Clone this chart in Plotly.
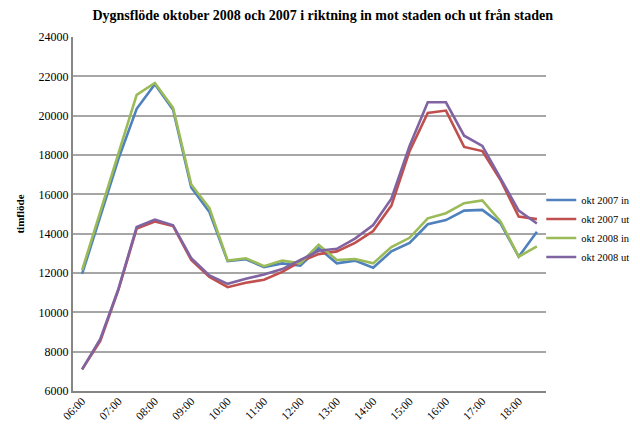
import plotly.graph_objects as go

times = ["06:00","06:30","07:00","07:30","08:00","08:30","09:00","09:30","10:00","10:30",
         "11:00","11:30","12:00","12:30","13:00","13:30","14:00","14:30","15:00","15:30",
         "16:00","16:30","17:00","17:30","18:00","18:30"]
tick_labels = ["06:00","07:00","08:00","09:00","10:00","11:00","12:00","13:00","14:00",
               "15:00","16:00","17:00","18:00"]

okt2007_in = [11950, 14900, 17800, 20350, 21600, 20300, 16350, 15100, 12600, 12700,
              12300, 12490, 12370, 13270, 12490, 12630, 12270, 13100, 13530, 14480,
              14690, 15170, 15210, 14520, 12830, 14100]
okt2007_ut = [7100, 8550, 11150, 14260, 14620, 14390, 12660, 11800, 11280, 11500,
              11660, 12060, 12580, 12960, 13100, 13530, 14130, 15430, 18200, 20140,
              20260, 18410, 18200, 16730, 14870, 14740]
okt2008_in = [12140, 15100, 18100, 21060, 21660, 20400, 16500, 15300, 12630, 12750,
              12350, 12630, 12490, 13440, 12660, 12710, 12490, 13320, 13790, 14780,
              15040, 15550, 15690, 14620, 12830, 13350]
okt2008_ut = [7100, 8650, 11200, 14340, 14720, 14430, 12750, 11880, 11450, 11710,
              11920, 12200, 12660, 13130, 13230, 13750, 14440, 15780, 18460, 20680,
              20680, 18980, 18460, 16820, 15170, 14520]

series = [
    ("okt 2007 in", okt2007_in, "#4F81BD"),
    ("okt 2007 ut", okt2007_ut, "#C0504D"),
    ("okt 2008 in", okt2008_in, "#9BBB59"),
    ("okt 2008 ut", okt2008_ut, "#8064A2"),
]

fig = go.Figure()
for name, vals, col in series:
    fig.add_trace(go.Scatter(x=times, y=vals, mode="lines", name=name,
                             line=dict(color=col, width=2.6)))

font = "Liberation Serif, Times New Roman, serif"
# The page body has an 8px margin, so the figure is sized to fill the rest of the window.
fig.update_layout(
    width=632, height=417,
    margin=dict(l=65, r=94, t=29, b=34, autoexpand=False),
    paper_bgcolor="white", plot_bgcolor="white",
    font=dict(family=font, size=12, color="black"),
    title=dict(text="<b>Dygnsflöde oktober 2008 och 2007 i riktning in mot staden och ut från staden</b>",
               x=0.498, xanchor="center", y=0.983, yanchor="middle",
               font=dict(family=font, size=14, color="black")),
    showlegend=True,
    legend=dict(x=0.99, xanchor="left", y=0.459, yanchor="middle",
                font=dict(family=font, size=10.5, color="black"),
                tracegroupgap=0, itemwidth=30, bgcolor="rgba(0,0,0,0)"),
)
fig.update_xaxes(
    type="category", categoryorder="array", categoryarray=times,
    range=[-0.5, len(times) - 0.5], automargin=False,
    tickmode="array", tickvals=tick_labels, ticktext=tick_labels,
    tickangle=-45, showgrid=False, showline=True, linecolor="#868686", linewidth=2,
    ticks="", tickfont=dict(family=font, size=11.5, color="black"),
    ticklabelstandoff=-3, zeroline=False,
)
fig.update_yaxes(
    range=[6000, 24000], dtick=2000, tick0=6000, tickformat="d", automargin=False,
    showgrid=True, gridcolor="#A6A6A6", gridwidth=1.5,
    showline=True, linecolor="#868686", linewidth=2,
    ticks="", zeroline=False,
    tickfont=dict(family=font, size=12, color="black"),
    title=dict(text="<b>timflöde</b>", font=dict(family=font, size=11, color="black"), standoff=12),
)
fig.write_html("out.html")
